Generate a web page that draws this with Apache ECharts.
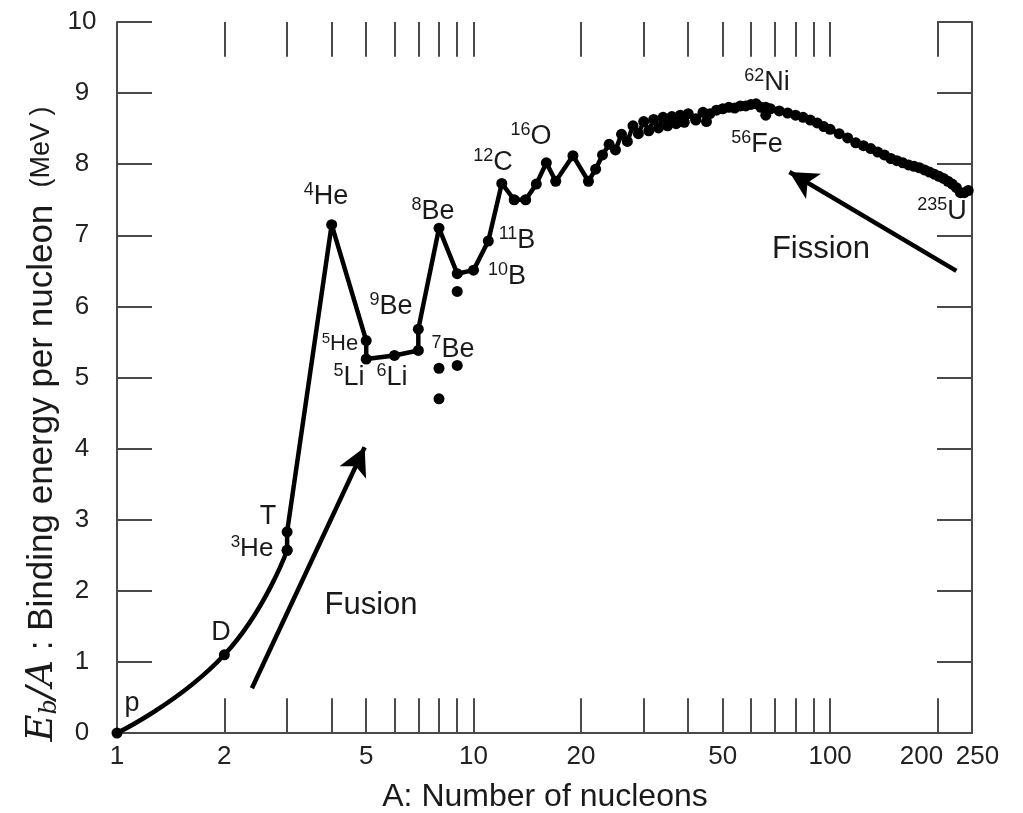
<!DOCTYPE html>
<html>
<head>
<meta charset="utf-8">
<script src="https://cdn.jsdelivr.net/npm/echarts@6/dist/echarts.min.js"></script>
<style>html,body{margin:0;padding:0;background:#fff}#c{width:1023px;height:813px}</style>
</head>
<body>
<div id="c"></div>
<script>
// ---- data ----
const xLabelValues = [1, 2, 5, 10, 20, 50, 100, 200, 250];
const xTickValues = [2,3,4,5,6,7,8,9,10,20,30,40,50,60,70,80,90,100,200];
// p - D - 3He (smooth curve)
const lightA = [1, 2, 3];
const lightE = [0, 1.10, 2.57];
// 3He -> T -> 4He -> ... -> 235U (straight segments)
const mainA = [3, 3, 4, 5, 5, 6, 7, 7, 8, 9, 10, 11, 12, 13, 14, 15, 16, 17, 19, 21, 22, 23, 24, 25, 26, 27, 28, 29, 30, 31, 32, 33, 34, 35, 36, 37, 38, 39, 40, 42, 44, 45, 46, 48, 50, 52, 54, 56, 58, 60, 62, 64, 66, 68, 72, 76, 80, 84, 88, 92, 96, 100, 106, 112, 118, 124, 130, 136, 142, 148, 154, 160, 166, 172, 178, 184, 190, 196, 202, 208, 214, 220, 226, 232, 238, 244];
const mainE = [2.57, 2.83, 7.15, 5.52, 5.26, 5.31, 5.38, 5.68, 7.10, 6.46, 6.51, 6.92, 7.73, 7.50, 7.50, 7.72, 8.02, 7.76, 8.12, 7.76, 7.93, 8.13, 8.28, 8.20, 8.42, 8.32, 8.54, 8.43, 8.60, 8.47, 8.63, 8.51, 8.66, 8.54, 8.67, 8.57, 8.69, 8.59, 8.71, 8.64, 8.73, 8.60, 8.71, 8.76, 8.78, 8.80, 8.79, 8.82, 8.82, 8.84, 8.85, 8.80, 8.80, 8.78, 8.75, 8.72, 8.69, 8.66, 8.62, 8.58, 8.53, 8.49, 8.43, 8.37, 8.30, 8.26, 8.22, 8.17, 8.13, 8.08, 8.05, 8.02, 7.99, 7.97, 7.95, 7.92, 7.89, 7.86, 7.83, 7.80, 7.76, 7.72, 7.67, 7.60, 7.60, 7.63];
// isolated nuclides
const isoA = [8, 8, 9, 9, 42, 66];
const isoE = [5.13, 4.70, 5.17, 6.21, 8.62, 8.69];
// arrows [fromA, fromE, toA, toE]
const fusionArrow = [2.39, 0.63, 4.95, 4.02];
const fissionArrow = [226, 6.50, 76.9, 7.89];

const zip = (a, b) => a.map((v, i) => [v, b[i]]);

const Y_MIN = 0, Y_MAX = 10;
const TICK_LEN = 0.49; // tick length in y units (≈35 px)

const chart = echarts.init(document.getElementById('c'));
const axisColor = '#4a4a4a';
const textColor = '#1a1a1a';
const FONT = 'Liberation Sans, Arial, sans-serif';

function el(sup, main, x, y, fs) {
  fs = fs || 26;
  return {
    type: 'text', x: x, y: y, z: 100,
    style: {
      text: '{s|' + sup + '}{m|' + main + '}',
      align: 'center', verticalAlign: 'middle',
      rich: {
        s: { fontSize: Math.round(fs * 0.66), fontFamily: FONT, fill: textColor, verticalAlign: 'top', lineHeight: fs + 4 },
        m: { fontSize: fs, fontFamily: FONT, fill: textColor, lineHeight: fs + 4 }
      }
    }
  };
}
function txt(t, x, y, fs) {
  return { type: 'text', x: x, y: y, z: 100,
    style: { text: t, fontSize: fs, fontFamily: FONT, fill: textColor, align: 'center', verticalAlign: 'middle' } };
}

const tickLines = [];
xTickValues.forEach(a => {
  tickLines.push([{ coord: [a, Y_MIN] }, { coord: [a, Y_MIN + TICK_LEN] }]);
  tickLines.push([{ coord: [a, Y_MAX - TICK_LEN] }, { coord: [a, Y_MAX] }]);
});

const labelStyle = { fontSize: 26, fontFamily: FONT, color: '#222' };

const option = {
  animation: false,
  backgroundColor: '#fff',
  grid: { left: 117, right: 51, top: 22, bottom: 80 },
  xAxis: [{
    type: 'log', logBase: 10, min: 1, max: 250.01, position: 'bottom',
    axisLine: { show: true, lineStyle: { color: axisColor, width: 2 } },
    axisTick: { show: false },
    axisLabel: {
      show: true, customValues: xLabelValues, showMaxLabel: true, showMinLabel: true,
      fontSize: 26, fontFamily: FONT, color: '#222', margin: 11,
      formatter: v => {
        const n = Math.round(v);
        if (n === 200) return '{l|' + n + '}';
        if (n === 250) return '{r|' + n + '}';
        return String(n);
      },
      rich: {
        l: Object.assign({ padding: [0, 32, 0, 0] }, labelStyle),
        r: Object.assign({ padding: [0, 0, 0, 11] }, labelStyle)
      }
    },
    splitLine: { show: false },
    minorTick: { show: false }
  }, {
    type: 'log', logBase: 10, min: 1, max: 250.01, position: 'top',
    axisLine: { show: true, lineStyle: { color: axisColor, width: 2 } },
    axisTick: { show: false },
    axisLabel: { show: false },
    splitLine: { show: false }
  }],
  yAxis: [{
    type: 'value', min: Y_MIN, max: Y_MAX, interval: 1, position: 'left',
    axisLine: { show: true, lineStyle: { color: axisColor, width: 2 } },
    axisTick: { show: true, inside: true, length: 35, lineStyle: { color: axisColor, width: 2 } },
    axisLabel: { fontSize: 26, fontFamily: FONT, color: '#222', align: 'center', margin: 35 },
    splitLine: { show: false }
  }, {
    type: 'value', min: Y_MIN, max: Y_MAX, interval: 1, position: 'right',
    axisLine: { show: true, lineStyle: { color: axisColor, width: 2 } },
    axisTick: { show: true, inside: true, length: 35, lineStyle: { color: axisColor, width: 2 } },
    axisLabel: { show: false },
    splitLine: { show: false }
  }],
  series: [{
    type: 'scatter', data: [], silent: true,
    markLine: {
      silent: true, symbol: ['none', 'none'], label: { show: false },
      lineStyle: { color: axisColor, width: 2, type: 'solid' },
      data: tickLines
    }
  }, {
    type: 'line', data: zip(lightA, lightE), smooth: 0.5,
    symbol: 'circle', symbolSize: 11, showSymbol: true,
    itemStyle: { color: '#000' }, lineStyle: { color: '#000', width: 4.5 }
  }, {
    type: 'line', data: zip(mainA, mainE),
    symbol: 'circle', symbolSize: 11, showSymbol: true,
    itemStyle: { color: '#000' }, lineStyle: { color: '#000', width: 4.5, join: 'round' },
    markLine: {
      silent: true, symbol: ['none', 'arrow'], symbolSize: [22, 28],
      label: { show: false },
      lineStyle: { color: '#000', width: 4.5, type: 'solid' },
      data: [
        [{ coord: [fusionArrow[0], fusionArrow[1]] }, { coord: [fusionArrow[2], fusionArrow[3]] }],
        [{ coord: [fissionArrow[0], fissionArrow[1]] }, { coord: [fissionArrow[2], fissionArrow[3]] }]
      ]
    }
  }, {
    type: 'scatter', data: zip(isoA, isoE), symbol: 'circle', symbolSize: 11,
    itemStyle: { color: '#000', opacity: 1 }
  }],
  graphic: [
    txt('p', 132, 704, 27),
    txt('D', 221, 633, 27),
    txt('T', 268, 517, 27),
    el('3', 'He', 252, 549, 26),
    el('4', 'He', 326, 197, 27),
    el('5', 'He', 340, 344, 22),
    el('5', 'Li', 349, 378, 27),
    el('6', 'Li', 392, 378, 27),
    el('9', 'Be', 391, 307, 27),
    el('7', 'Be', 453, 350, 27),
    el('8', 'Be', 433, 212, 27),
    el('10', 'B', 507, 277, 27),
    el('11', 'B', 517, 241, 27),
    el('12', 'C', 493, 163, 27),
    el('16', 'O', 531, 137, 27),
    el('62', 'Ni', 767, 83, 27),
    el('56', 'Fe', 757, 145, 27),
    el('235', 'U', 942, 212, 27),
    txt('Fission', 821, 249, 31),
    txt('Fusion', 371, 605, 31),
    txt('A: Number of nucleons', 545, 797, 32),
    {
      type: 'text', x: 42, y: 424, rotation: Math.PI / 2, z: 100,
      style: {
        text: '{e|E}{sub|b}{e|/A}{t| : Binding energy per nucleon }{u| (MeV )}',
        align: 'center', verticalAlign: 'middle',
        rich: {
          e: { fontSize: 37, fontFamily: 'DejaVu Serif, Liberation Serif, serif', fontStyle: 'italic', fill: textColor, lineHeight: 40 },
          sub: { fontSize: 24, fontFamily: 'DejaVu Serif, Liberation Serif, serif', fontStyle: 'italic', fill: textColor, verticalAlign: 'bottom', lineHeight: 40 },
          t: { fontSize: 35, fontFamily: FONT, fill: textColor, lineHeight: 40 },
          u: { fontSize: 27, fontFamily: FONT, fill: textColor, lineHeight: 40 }
        }
      }
    }
  ]
};
chart.setOption(option);
</script>
</body>
</html>
